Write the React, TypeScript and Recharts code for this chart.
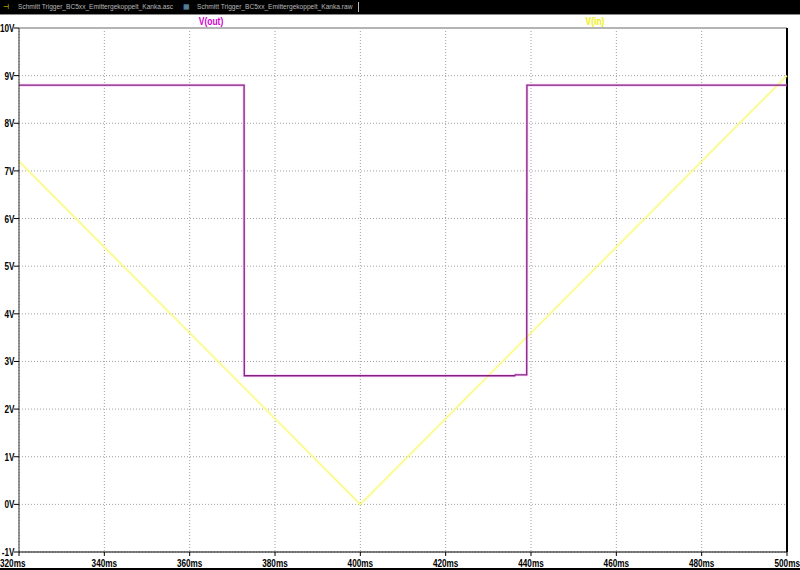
import React from "react";
import {
  LineChart,
  Line,
  XAxis,
  YAxis,
  CartesianGrid,
  ReferenceLine,
} from "recharts";

// time axis (ms) and voltage axis ticks
const timeTicks = [320, 340, 360, 380, 400, 420, 440, 460, 480, 500];
const voltTicks = [-1, 0, 1, 2, 3, 4, 5, 6, 7, 8, 9, 10];

// V(out): schmitt trigger output
const outTime = [320, 372.75, 372.8, 436.2, 436.3, 439.0, 439.05, 500];
const outVolts = [8.8, 8.8, 2.7, 2.7, 2.72, 2.72, 8.8, 8.8];

// V(in): triangle input
const inTime = [320, 400, 500];
const inVolts = [7.2, 0, 9.0];

const tabTitles = [
  "Schmitt Trigger_BC5xx_Emittergekoppelt_Kanka.asc",
  "Schmitt Trigger_BC5xx_Emittergekoppelt_Kanka.raw",
];

const outData = outTime.map((t, i) => ({ t, v: outVolts[i] }));
const inData = inTime.map((t, i) => ({ t, v: inVolts[i] }));

const FONT = "'Liberation Sans', Arial, sans-serif";
const SQUEEZE = 0.78;

// narrow bold label, drawn at (x, y) and squeezed sideways
const NarrowText = ({ x, y, anchor, children, fill = "#000", size = 10.5 }: any) => (
  <text
    transform={`translate(${x},${y}) scale(${SQUEEZE},1)`}
    textAnchor={anchor}
    fontFamily={FONT}
    fontWeight="bold"
    fontSize={size}
    fill={fill}
  >
    {children}
  </text>
);

const TimeTick = (props: any) => {
  const { x, y, payload } = props;
  const first = payload.value === timeTicks[0];
  const last = payload.value === timeTicks[timeTicks.length - 1];
  const anchor = first ? "start" : last ? "end" : "middle";
  const dx = first ? -19 : last ? 13 : 0;
  return (
    <g>
      <line x1={x} y1={y} x2={x} y2={y + 4} stroke="#000" />
      <NarrowText x={x + dx} y={y + 15} anchor={anchor}>
        {payload.value + "ms"}
      </NarrowText>
    </g>
  );
};

const VoltTick = (props: any) => {
  const { x, y, payload } = props;
  return (
    <g>
      <line x1={x} y1={y} x2={x - 5} y2={y} stroke="#000" />
      <NarrowText x={x - 4.5} y={y + 4} anchor="end">
        {payload.value + "V"}
      </NarrowText>
    </g>
  );
};

const App = () => {
  return (
    <div
      style={{
        position: "absolute",
        left: 0,
        top: 0,
        width: 800,
        height: 570,
        background: "#fff",
        overflow: "hidden",
      }}
    >
      <LineChart
        width={800}
        height={570}
        margin={{ top: 28, right: 13, left: 0, bottom: 0 }}
      >
        <CartesianGrid stroke="#a0a0a0" strokeDasharray="1 2" />
        <XAxis
          dataKey="t"
          type="number"
          domain={[320, 500]}
          ticks={timeTicks}
          interval={0}
          height={18}
          axisLine={{ stroke: "#000" }}
          tickLine={false}
          tickSize={0}
          tickMargin={0}
          tick={<TimeTick />}
        />
        <YAxis
          type="number"
          domain={[-1, 10]}
          ticks={voltTicks}
          interval={0}
          width={19}
          axisLine={{ stroke: "#333" }}
          tickLine={false}
          tickSize={0}
          tickMargin={0}
          tick={<VoltTick />}
        />
        <ReferenceLine y={10} stroke="#b4b4b4" strokeWidth={2} />
        <ReferenceLine x={500} stroke="#000" strokeWidth={2} />
        <Line
          data={inData}
          dataKey="v"
          type="linear"
          stroke="#ffff60"
          strokeOpacity={0.3}
          strokeWidth={3}
          dot={false}
          isAnimationActive={false}
        />
        <Line
          data={inData}
          dataKey="v"
          type="linear"
          stroke="#f8f888"
          strokeWidth={1.1}
          dot={false}
          isAnimationActive={false}
        />
        <Line
          data={outData}
          dataKey="v"
          type="linear"
          stroke="#ff80ff"
          strokeOpacity={0.35}
          strokeWidth={3}
          dot={false}
          isAnimationActive={false}
        />
        <Line
          data={outData}
          dataKey="v"
          type="linear"
          stroke="#80207f"
          strokeWidth={1.3}
          dot={false}
          isAnimationActive={false}
        />
      </LineChart>

      {/* window tab bar */}
      <div
        style={{
          position: "absolute",
          left: 0,
          top: 0,
          width: 800,
          height: 14,
          background: "#000",
          borderBottom: "1px solid #8a8a8a",
          fontFamily: "'Liberation Sans', sans-serif",
          fontSize: 6.6,
          color: "#b8b8b8",
          lineHeight: "13px",
          whiteSpace: "nowrap",
        }}
      >
        <span style={{ position: "absolute", left: 3, top: 0, color: "#e0e000" }}>⊣</span>
        <span style={{ position: "absolute", left: 18, top: 0 }}>{tabTitles[0]}</span>
        <span style={{ position: "absolute", left: 183, top: 0, color: "#6fa0c0" }}>▦</span>
        <span style={{ position: "absolute", left: 197, top: 0 }}>{tabTitles[1]}</span>
        <div
          style={{
            position: "absolute",
            left: 358,
            top: 2,
            width: 1,
            height: 10,
            background: "#b8b8b8",
          }}
        />
      </div>

      {/* trace labels */}
      <div
        style={{
          position: "absolute",
          left: 211,
          top: 16,
          transform: "translateX(-50%) scaleX(0.85)",
          fontFamily: FONT,
          fontWeight: "bold",
          fontSize: 10,
          color: "#d000d0",
        }}
      >
        V(out)
      </div>
      <div
        style={{
          position: "absolute",
          left: 595,
          top: 16,
          transform: "translateX(-50%) scaleX(0.85)",
          fontFamily: FONT,
          fontWeight: "bold",
          fontSize: 10,
          color: "#f0f000",
        }}
      >
        V(in)
      </div>
      <div
        style={{
          position: "absolute",
          left: 0,
          top: 568,
          width: 800,
          height: 2,
          background: "#000",
        }}
      />
    </div>
  );
};

export default App;
